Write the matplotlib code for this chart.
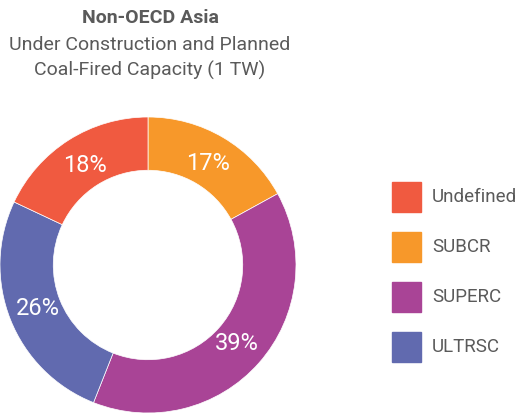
import matplotlib
matplotlib.use("Agg")
import matplotlib.pyplot as plt
import matplotlib.patches as mpatches
import numpy as np

categories = ["Undefined", "SUBCR", "SUPERC", "ULTRSC"]
shares = [18, 17, 39, 26]
colors = ["#F05A40", "#F7982A", "#A94496", "#616AAF"]
draw_order = [1, 2, 3, 0]  # clockwise from top

plt.rcParams['font.family'] = ['Roboto', 'DejaVu Sans']
W, H = 524, 415
fig = plt.figure(figsize=(W/100, H/100), dpi=100)
grey = '#5a5a5a'

cx, cy, r = 148, 265, 148
ax = fig.add_axes([(cx - r)/W, (H - cy - r)/H, 2*r/W, 2*r/H])
vals = [shares[i] for i in draw_order]
cols = [colors[i] for i in draw_order]
wedges, texts = ax.pie(vals, colors=cols, startangle=90, counterclock=False,
                       radius=1, wedgeprops=dict(width=0.36, linewidth=0.5, edgecolor='white'))
for w, v in zip(wedges, vals):
    ang = np.deg2rad((w.theta1 + w.theta2) / 2)
    rr = 0.80
    ax.text(rr*np.cos(ang), rr*np.sin(ang), f"{v}%", ha='center', va='center',
            color='white', fontsize=17)
ax.set_xlim(-1, 1); ax.set_ylim(-1, 1)
ax.set_aspect('equal')
ax.axis('off')

fig.text(150/W, 1 - 18/H, "Non-OECD Asia", ha='center', va='center',
         fontsize=14, fontweight='bold', color=grey)
fig.text(150/W, 1 - 45/H, "Under Construction and Planned", ha='center', va='center',
         fontsize=14, color=grey)
fig.text(150/W, 1 - 70/H, "Coal-Fired Capacity (1 TW)", ha='center', va='center',
         fontsize=14, color=grey)

# legend
for i, (lab, c) in enumerate(zip(categories, colors)):
    top = 182 + 50*i
    fig.patches.append(mpatches.Rectangle((392/W, 1 - (top + 30)/H), 29/W, 30/H,
                                          transform=fig.transFigure, color=c))
    fig.text(432/W, 1 - (top + 15)/H, lab, ha='left', va='center',
             fontsize=13.5, color=grey)

fig.savefig("out.png", dpi=100)
